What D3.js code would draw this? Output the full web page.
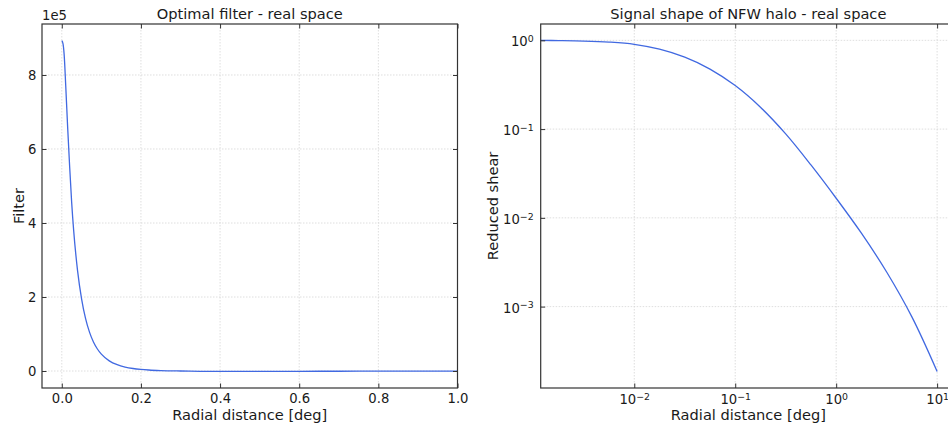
<!DOCTYPE html>
<html>
<head>
<meta charset="utf-8">
<script src="https://cdn.jsdelivr.net/npm/d3@7"></script>
<style>
  html, body { margin: 0; padding: 0; background: #fff; }
  svg { display: block; font-family: "DejaVu Sans", sans-serif; }
</style>
</head>
<body>
<svg id="fig" width="948" height="429"></svg>
<script>
// Optimal filter profile in real space (radial distance in deg, filter amplitude)
const filterRadius = [0, 0.003, 0.006, 0.01, 0.015, 0.02, 0.025, 0.03, 0.04, 0.05, 0.06, 0.07, 0.08, 0.09,
  0.10, 0.12, 0.14, 0.16, 0.18, 0.20, 0.22, 0.25, 0.30, 0.35, 0.40, 0.45, 0.50, 0.60, 0.70, 0.80, 0.90, 1.00];
const filterValue = [893000, 885000, 855000, 770000, 655000, 550000, 455000, 380000, 270000, 195000, 142000,
  105000, 78500, 59500, 45500, 27500, 17000, 10700, 6800, 4400, 2800, 1300, 0, -800, -1100, -1200, -1100,
  -800, -600, -400, -250, -150];
const filterXTicks = [0.0, 0.2, 0.4, 0.6, 0.8, 1.0];
const filterYTicks = [0, 200000, 400000, 600000, 800000];

// NFW halo reduced shear profile (radial distance in deg)
const shearRadius = [0.001175, 0.001778, 0.003162, 0.005623, 0.01, 0.01778, 0.03162, 0.05623, 0.1, 0.1778,
  0.3162, 0.5623, 1, 1.778, 3.162, 5.623, 10];
const shearValue = [0.9977, 0.9931, 0.9817, 0.955, 0.9016, 0.7943, 0.6457, 0.4742, 0.309, 0.1762,
  0.0883, 0.03945, 0.01663, 0.006714, 0.002455, 0.000766, 0.000186];
const shearXTicks = [1e-2, 1e-1, 1e0, 1e1];
const shearYTicks = [1e-3, 1e-2, 1e-1, 1e0];

const lineColor = "#4169e1";
const spineColor = "#333";
const gridColor = "#d6d6d6";
const textColor = "#1a1a1a";
const svg = d3.select("#fig");

// "10" with a raised exponent
function powerLabel(sel, exp, anchor) {
  sel.attr("text-anchor", anchor);
  sel.append("tspan").text("10");
  sel.append("tspan")
    .attr("dy", "-0.45em")
    .attr("font-size", "9.4px")
    .text(exp < 0 ? "\u2212" + Math.abs(exp) : String(exp));
}

function panel(opts) {
  const { left, right, top, bottom, x, y, xTicks, yTicks, xFmt, yFmt, title, xLabel, yLabel, yLabelX, data, logAxes, id } = opts;
  const g = svg.append("g");

  svg.append("clipPath").attr("id", id)
    .append("rect").attr("x", left).attr("y", top).attr("width", right - left).attr("height", bottom - top);

  // grid
  g.append("g").selectAll("line").data(xTicks).join("line")
    .attr("x1", d => x(d)).attr("x2", d => x(d)).attr("y1", top).attr("y2", bottom)
    .attr("stroke", gridColor).attr("stroke-width", 0.8).attr("stroke-dasharray", "1.5,1.5");
  g.append("g").selectAll("line").data(yTicks).join("line")
    .attr("y1", d => y(d)).attr("y2", d => y(d)).attr("x1", left).attr("x2", right)
    .attr("stroke", gridColor).attr("stroke-width", 0.8).attr("stroke-dasharray", "1.5,1.5");

  // curve
  const line = d3.line()
    .x(d => x(d[0])).y(d => y(d[1]))
    .curve(logAxes ? d3.curveCatmullRom.alpha(0.5) : d3.curveMonotoneX);
  g.append("path")
    .datum(data)
    .attr("clip-path", `url(#${id})`)
    .attr("fill", "none").attr("stroke", lineColor).attr("stroke-width", 1.3)
    .attr("d", line);

  // axes with inward ticks on all four sides
  const tl = 4.5;
  const bottomAxis = g.append("g").attr("transform", `translate(0,${bottom})`)
    .call(d3.axisBottom(x).tickValues(xTicks).tickSizeInner(-tl).tickSizeOuter(0).tickPadding(6).tickFormat(logAxes ? () => "" : xFmt));
  const topAxis = g.append("g").attr("transform", `translate(0,${top})`)
    .call(d3.axisTop(x).tickValues(xTicks).tickSizeInner(-tl).tickSizeOuter(0).tickFormat(() => ""));
  const leftAxis = g.append("g").attr("transform", `translate(${left},0)`)
    .call(d3.axisLeft(y).tickValues(yTicks).tickSizeInner(-tl).tickSizeOuter(0).tickPadding(5.5).tickFormat(logAxes ? () => "" : yFmt));
  const rightAxis = g.append("g").attr("transform", `translate(${right},0)`)
    .call(d3.axisRight(y).tickValues(yTicks).tickSizeInner(-tl).tickSizeOuter(0).tickFormat(() => ""));
  [bottomAxis, topAxis, leftAxis, rightAxis].forEach(a => {
    a.select(".domain").remove();
    a.selectAll(".tick line").attr("stroke", spineColor).attr("stroke-width", 1);
    a.selectAll("text").attr("font-size", "13.2px").attr("fill", textColor).attr("font-family", "DejaVu Sans, sans-serif");
  });

  if (logAxes) {
    bottomAxis.selectAll(".tick").each(function(d) {
      const t = d3.select(this).append("text")
        .attr("y", 16).attr("fill", textColor).attr("font-size", "13.2px").attr("font-family", "DejaVu Sans, sans-serif");
      powerLabel(t, Math.round(Math.log10(d)), "middle");
    });
    leftAxis.selectAll(".tick").each(function(d) {
      const t = d3.select(this).append("text")
        .attr("x", -7).attr("y", 5.5).attr("fill", textColor).attr("font-size", "13.2px").attr("font-family", "DejaVu Sans, sans-serif");
      powerLabel(t, Math.round(Math.log10(d)), "end");
    });
  }

  // spines
  g.append("rect").attr("x", left).attr("y", top).attr("width", right - left).attr("height", bottom - top)
    .attr("fill", "none").attr("stroke", spineColor).attr("stroke-width", 1.2);

  // title and axis labels
  g.append("text").attr("x", (left + right) / 2).attr("y", top - 5).attr("text-anchor", "middle")
    .attr("font-size", "14.6px").attr("fill", textColor).text(title);
  g.append("text").attr("x", (left + right) / 2).attr("y", 420).attr("text-anchor", "middle")
    .attr("font-size", "14.6px").attr("fill", textColor).text(xLabel);
  g.append("text").attr("transform", `translate(${yLabelX},${(top + bottom) / 2}) rotate(-90)`)
    .attr("text-anchor", "middle").attr("font-size", "14.6px").attr("fill", textColor).text(yLabel);
  return g;
}

// Left panel: optimal filter, linear axes
const xL = d3.scaleLinear().domain([-0.05, 1.0]).range([42, 457.5]);
const yL = d3.scaleLinear().domain([-45900, 937800]).range([388, 24]);
const gL = panel({
  id: "clipL", left: 42, right: 457.5, top: 24, bottom: 388, x: xL, y: yL,
  xTicks: filterXTicks, yTicks: filterYTicks,
  xFmt: d3.format(".1f"), yFmt: d => String(Math.round(d / 1e5)),
  title: "Optimal filter - real space", xLabel: "Radial distance [deg]", yLabel: "Filter", yLabelX: 23.5,
  data: filterRadius.map((r, i) => [r, filterValue[i]]), logAxes: false
});
// scale factor of the y axis
gL.append("text").attr("x", 42).attr("y", 20).attr("font-size", "13.2px").attr("fill", textColor).text("1e5");

// Right panel: reduced shear, log-log axes
const xR = d3.scaleLog().domain([Math.pow(10, -2.927), Math.pow(10, 1.187)]).range([540.7, 956]);
const yR = d3.scaleLog().domain([Math.pow(10, -3.917), Math.pow(10, 0.184)]).range([388, 24]);
panel({
  id: "clipR", left: 540.7, right: 956, top: 24, bottom: 388, x: xR, y: yR,
  xTicks: shearXTicks, yTicks: shearYTicks,
  title: "Signal shape of NFW halo - real space", xLabel: "Radial distance [deg]", yLabel: "Reduced shear", yLabelX: 497.5,
  data: shearRadius.map((r, i) => [r, shearValue[i]]), logAxes: true
});
</script>
</body>
</html>
